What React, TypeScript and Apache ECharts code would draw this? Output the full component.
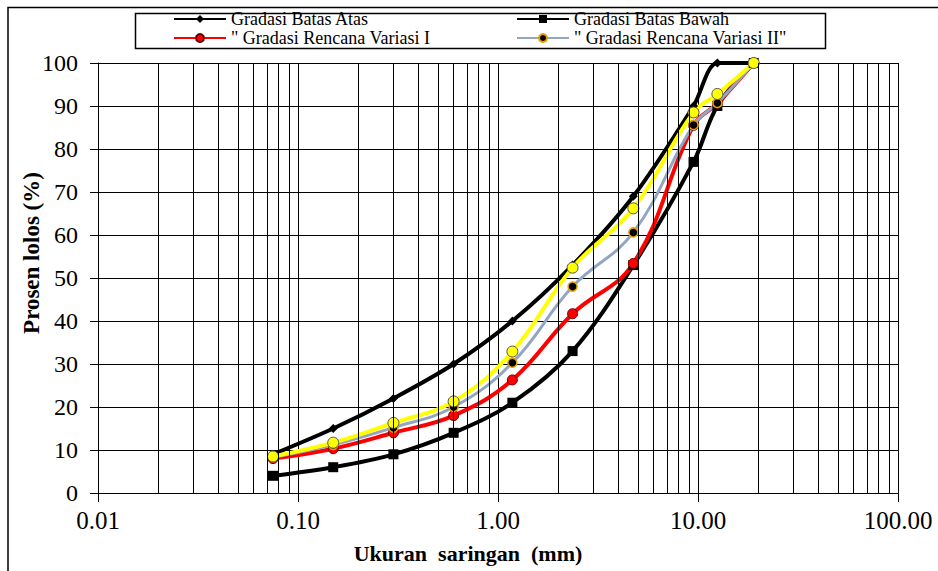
import React, { useEffect, useRef } from "react";
import * as echarts from "echarts";

const sieveSizes = [0.075, 0.15, 0.3, 0.6, 1.18, 2.36, 4.75, 9.5, 12.5, 19];
const batasAtas = [9, 15, 22, 30, 40, 53, 69, 90, 100, 100];
const batasBawah = [4, 6, 9, 14, 21, 33, 53, 77, 90, 100];
const variasiI = [8, 10.3, 14, 18, 26.3, 41.7, 53.4, 85.5, 90.6, 100];
const variasiII = [8.3, 11.2, 15.2, 20, 30.3, 48, 60.6, 85.6, 90.7, 100];
const variasiIII = [8.5, 11.7, 16.3, 21.3, 32.9, 52.4, 66.2, 88.5, 92.8, 100];
const minorXTicks = [
  0.02, 0.03, 0.04, 0.05, 0.06, 0.07, 0.08, 0.09,
  0.2, 0.3, 0.4, 0.5, 0.6, 0.7, 0.8, 0.9,
  2, 3, 4, 5, 6, 7, 8, 9,
  20, 30, 40, 50, 60, 70, 80, 90,
];

const names = {
  atas: "Gradasi Batas Atas",
  bawah: "Gradasi Batas Bawah",
  v1: "\" Gradasi Rencana Variasi I",
  v2: "\" Gradasi Rencana Variasi II\"",
  v3: "Gradasi Rencana Variasi III",
};

const FONT = "Times New Roman";

const pairs = (ys: number[]) => sieveSizes.map((x, i) => [x, ys[i]]);

export default function App() {
  const ref = useRef<HTMLDivElement>(null);
  useEffect(() => {
    if (!ref.current) return;
    const chart = echarts.init(ref.current, null, { renderer: "svg" });
    const legendText = { fontFamily: FONT, fontSize: 18, color: "#000" };
    chart.setOption({
      animation: false,
      backgroundColor: "#fff",
      textStyle: { fontFamily: FONT },
      grid: { left: 98, right: 40, top: 63, bottom: 78 },
      graphic: [
        {
          type: "polyline",
          shape: { points: [[8, 571], [8, 7.5], [938, 7.5]] },
          style: { stroke: "#000", lineWidth: 1.5, fill: null },
          silent: true,
        },
        {
          type: "rect",
          shape: { x: 135.5, y: 13.5, width: 690, height: 35 },
          style: { stroke: "#000", lineWidth: 1.5, fill: "#fff" },
          silent: true,
          z: -1,
        },
      ],
      legend: [
        {
          orient: "vertical",
          left: 173,
          top: 10,
          padding: 0,
          itemGap: 1,
          itemWidth: 52,
          itemHeight: 10,
          textStyle: legendText,
          data: [names.atas, names.v1],
        },
        {
          orient: "vertical",
          left: 516,
          top: 10,
          padding: 0,
          itemGap: 1,
          itemWidth: 52,
          itemHeight: 10,
          textStyle: legendText,
          data: [names.bawah, names.v2],
        },
      ],
      xAxis: {
        type: "log",
        logBase: 10,
        min: 0.01,
        max: 100,
        name: "Ukuran  saringan  (mm)",
        nameLocation: "middle",
        nameGap: 49,
        nameMoveOverlap: false,
        nameTextStyle: {
          fontFamily: FONT,
          fontSize: 22,
          fontWeight: "bold",
          color: "#000",
          padding: [0, 60, 0, 0],
        },
        axisLine: { lineStyle: { color: "#000", width: 1 } },
        axisTick: { show: true, length: 9, inside: false, lineStyle: { color: "#000" } },
        axisLabel: {
          fontFamily: FONT,
          fontSize: 25,
          color: "#000",
          margin: 15,
          formatter: (v: number) => v.toFixed(2),
        },
        splitLine: { show: true, lineStyle: { color: "#000", width: 1 } },
      },
      yAxis: {
        type: "value",
        min: 0,
        max: 100,
        interval: 10,
        name: "Prosen lolos (%)",
        nameLocation: "middle",
        nameGap: 55,
        nameMoveOverlap: false,
        nameTextStyle: {
          fontFamily: FONT,
          fontSize: 23,
          fontWeight: "bold",
          color: "#000",
          padding: [0, 0, 0, 50],
        },
        axisLine: { show: true, lineStyle: { color: "#000", width: 1 } },
        axisTick: { show: true, length: 8, inside: false, lineStyle: { color: "#000" } },
        axisLabel: { fontFamily: FONT, fontSize: 24, color: "#000", margin: 20 },
        splitLine: { show: true, lineStyle: { color: "#000", width: 1 } },
      },
      series: [
        {
          name: "minor",
          type: "line",
          data: [],
          silent: true,
          markLine: {
            silent: true,
            symbol: ["none", "none"],
            label: { show: false },
            lineStyle: { color: "#000", width: 1, type: "solid" },
            data: minorXTicks.map((v) => ({ xAxis: v })),
          },
        },
        {
          name: names.atas,
          type: "line",
          smooth: 0.3,
          data: pairs(batasAtas),
          symbol: "diamond",
          symbolSize: 9,
          lineStyle: { color: "#000", width: 4 },
          itemStyle: { color: "#000" },
        },
        {
          name: names.bawah,
          type: "line",
          smooth: 0.35,
          data: pairs(batasBawah),
          symbol: "rect",
          symbolSize: 10,
          lineStyle: { color: "#000", width: 4 },
          itemStyle: { color: "#000" },
        },
        {
          name: names.v1,
          type: "line",
          smooth: 0.4,
          data: pairs(variasiI),
          symbol: "circle",
          symbolSize: 10,
          lineStyle: { color: "#ff0000", width: 4 },
          itemStyle: { color: "#ff0000", borderColor: "#6b0000", borderWidth: 1 },
        },
        {
          name: names.v2,
          type: "line",
          smooth: 0.4,
          data: pairs(variasiII),
          symbol: "circle",
          symbolSize: 9,
          lineStyle: { color: "#92a6c2", width: 3 },
          itemStyle: { color: "#000", borderColor: "#e8a000", borderWidth: 1.5 },
        },
        {
          name: names.v3,
          type: "line",
          smooth: 0.4,
          data: pairs(variasiIII),
          symbol: "circle",
          symbolSize: 11,
          lineStyle: { color: "#ffff00", width: 4 },
          itemStyle: { color: "#ffff00", borderColor: "#555", borderWidth: 1 },
        },
      ],
    });
    return () => chart.dispose();
  }, []);
  return (
    <div
      ref={ref}
      style={{ position: "absolute", left: 0, top: 0, width: 938, height: 571 }}
    />
  );
}
